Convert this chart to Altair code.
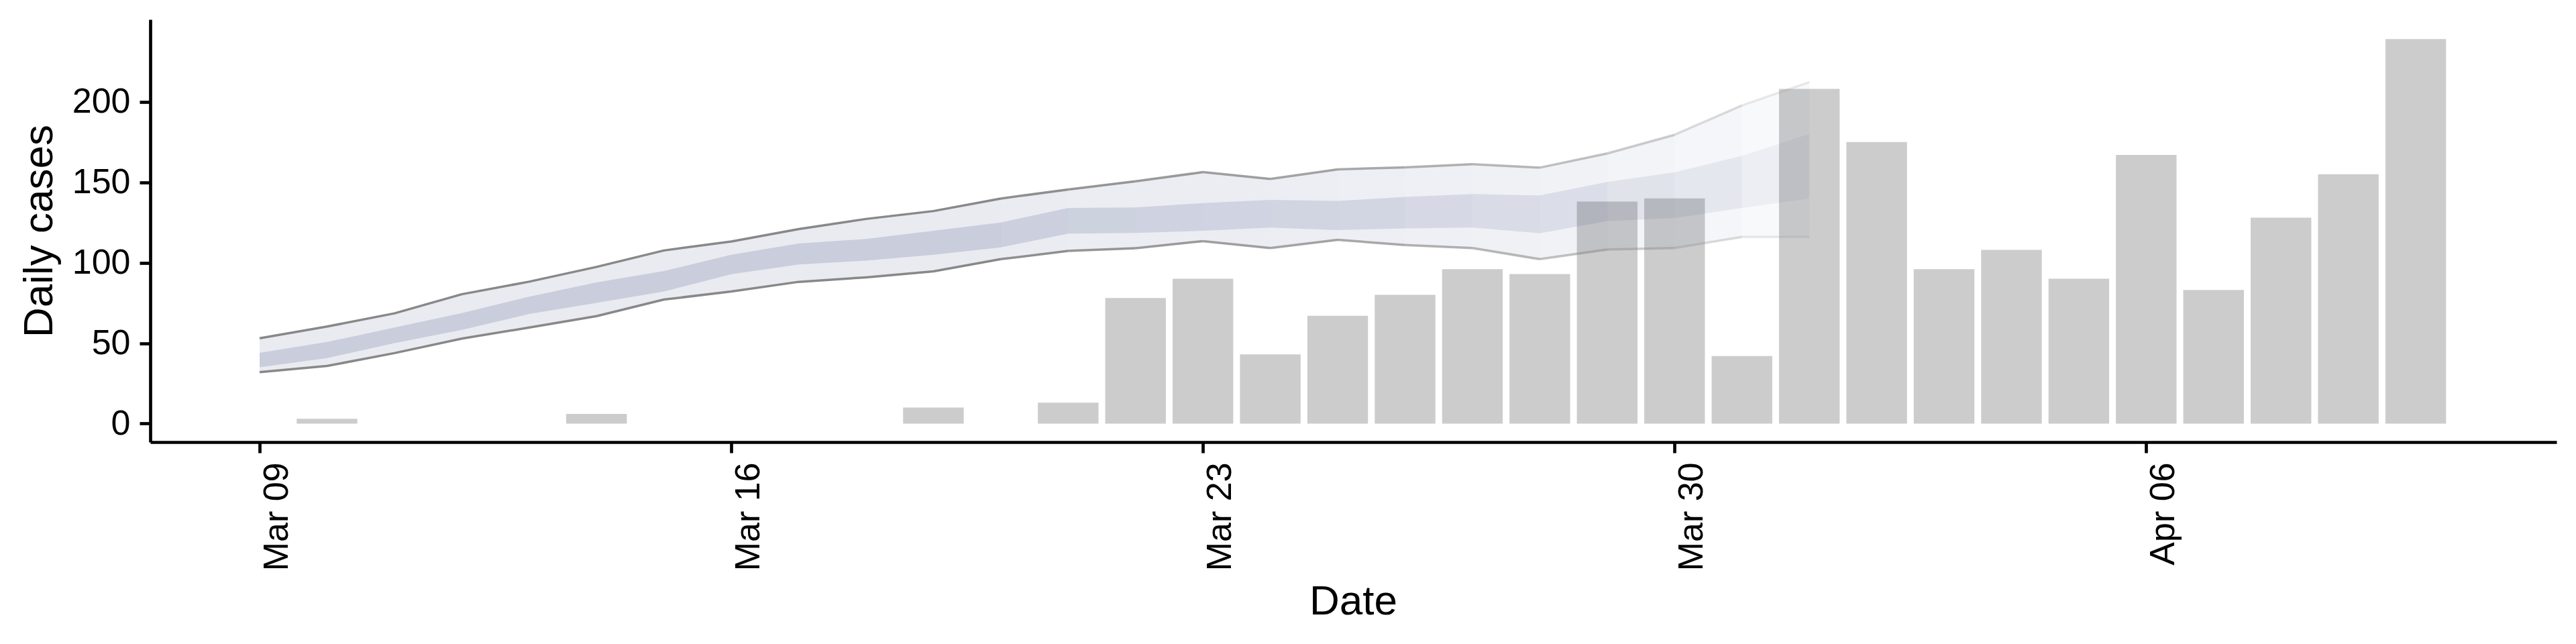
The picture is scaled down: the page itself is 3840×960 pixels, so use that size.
import altair as alt
import pandas as pd

# observed daily cases (bars)
case_dates = [
    "2020-03-10", "2020-03-14", "2020-03-19", "2020-03-21", "2020-03-22",
    "2020-03-23", "2020-03-24", "2020-03-25", "2020-03-26", "2020-03-27",
    "2020-03-28", "2020-03-29", "2020-03-30", "2020-03-31", "2020-04-01",
    "2020-04-02", "2020-04-03", "2020-04-04", "2020-04-05", "2020-04-06",
    "2020-04-07", "2020-04-08", "2020-04-09", "2020-04-10",
]
daily_cases = [3, 6, 10, 13, 78, 90, 43, 67, 80, 96, 93, 138, 140, 42, 208,
               175, 96, 108, 90, 167, 83, 128, 155, 239]

# estimated cases by date of infection (credible intervals)
est_dates = [
    "2020-03-09", "2020-03-10", "2020-03-11", "2020-03-12", "2020-03-13",
    "2020-03-14", "2020-03-15", "2020-03-16", "2020-03-17", "2020-03-18",
    "2020-03-19", "2020-03-20", "2020-03-21", "2020-03-22", "2020-03-23",
    "2020-03-24", "2020-03-25", "2020-03-26", "2020-03-27", "2020-03-28",
    "2020-03-29", "2020-03-30", "2020-03-31", "2020-04-01",
]
upper_90 = [53.0, 60.3, 68.5, 80.4, 88.2, 97.4, 107.6, 113.2, 120.9, 127.2,
            132.1, 139.9, 145.5, 150.6, 156.3, 152.1, 158.0, 159.3, 161.2,
            159.1, 167.9, 179.5, 197.8, 212.3]
lower_90 = [32.0, 35.8, 43.8, 52.8, 59.7, 66.8, 77.1, 82.1, 88.1, 90.9,
            94.6, 102.2, 107.3, 109.0, 113.4, 109.1, 114.2, 111.0, 109.1,
            102.2, 108.2, 109.1, 116.0, 116.0]
upper_50 = [44.0, 50.7, 59.7, 68.7, 78.9, 87.7, 94.8, 104.9, 111.9, 114.7,
            119.8, 125.0, 134.0, 134.3, 137.1, 139.0, 138.4, 140.9, 142.7,
            141.8, 150.2, 156.2, 166.4, 180.0]
lower_50 = [35.0, 40.7, 50.0, 58.2, 68.1, 75.0, 82.1, 92.9, 98.9, 101.3,
            104.9, 109.5, 118.1, 118.5, 119.8, 121.8, 120.3, 121.3, 121.8,
            118.3, 125.9, 127.8, 134.0, 139.9]
# confidence weight of each day-to-day step (recent days are faded)
step_weight = [1, 1, 1, 1, 1, 1, 1, 1, 1, 1, 1,
               0.96, 0.92, 0.89, 0.86, 0.83, 0.80, 0.75, 0.70, 0.64, 0.56,
               0.44, 0.32]

y_ticks = [0, 50, 100, 150, 200]


def iso(ts):
    return ts.strftime("%Y-%m-%dT%H:%M:%SZ")


bars = pd.DataFrame({"date": pd.to_datetime(case_dates), "cases": daily_cases})
bars["start"] = (bars["date"] - pd.Timedelta(hours=10.8)).map(iso)
bars["end"] = (bars["date"] + pd.Timedelta(hours=10.8)).map(iso)
bars = bars.drop(columns="date")

# split the ribbon into pieces so that each piece can have its own opacity
rows = []
seg = -1
prev_w = None
for i in range(len(est_dates) - 1):
    w = step_weight[i]
    if w != prev_w:
        seg += 1
        rows.append((seg, w, i))
    rows.append((seg, w, i + 1))
    prev_w = w
ribbon = pd.DataFrame([{
    "seg": s, "w": w,
    "date": est_dates[i] + "T00:00:00Z",
    "hi90": upper_90[i], "lo90": lower_90[i],
    "hi50": upper_50[i], "lo50": lower_50[i],
} for s, w, i in rows])

day0 = pd.Timestamp("2020-03-09")
x_scale = alt.Scale(
    type="utc",
    domain=[iso(day0 - pd.Timedelta(days=1.623)), iso(day0 + pd.Timedelta(days=34.09))],
)
x_axis = alt.Axis(
    title="Date",
    values=[alt.DateTime(year=2020, month=m, date=d, utc=True)
            for m, d in [(3, 9), (3, 16), (3, 23), (3, 30), (4, 6)]],
    format="%b %d", labelAngle=270, labelAlign="right", labelBaseline="top",
    labelFlush=False, labelOverlap=False,
    titleX=1793, titleY=256, titleAlign="center", titleBaseline="alphabetic",
)
y_scale = alt.Scale(domain=[-11.5, 251.2], nice=False, zero=False)
y_axis = alt.Axis(
    title="Daily cases", values=y_ticks,
    titleX=-147, titleY=315, titleAngle=270, titleAlign="center",
    titleBaseline="alphabetic",
)

col = alt.Chart(bars).mark_bar(color="#cccccc").encode(
    x=alt.X("start:T", scale=x_scale, axis=x_axis),
    x2="end:T",
    y=alt.Y("cases:Q", scale=y_scale, axis=y_axis),
    y2=alt.datum(0),
)

base = alt.Chart(ribbon)

outer = base.transform_calculate(op="0.112 * datum.w").mark_area(color="#3c4b82").encode(
    x=alt.X("date:T", scale=x_scale, axis=x_axis),
    y=alt.Y("lo90:Q", scale=y_scale, axis=y_axis),
    y2="hi90:Q",
    detail="seg:N",
    opacity=alt.Opacity("op:Q", scale=None, legend=None),
)

inner = base.transform_calculate(op="0.185 * datum.w").mark_area(color="#3c4b82").encode(
    x=alt.X("date:T", scale=x_scale, axis=x_axis),
    y=alt.Y("lo50:Q", scale=y_scale, axis=y_axis),
    y2="hi50:Q",
    detail="seg:N",
    opacity=alt.Opacity("op:Q", scale=None, legend=None),
)

edges = base.transform_fold(
    ["hi90", "lo90"], as_=["bound", "value"]
).transform_calculate(op="pow(datum.w, 1.5)").mark_line(
    color="#888888", strokeWidth=3.5, strokeCap="butt", strokeJoin="round"
).encode(
    x=alt.X("date:T", scale=x_scale, axis=x_axis),
    y=alt.Y("value:Q", scale=y_scale, axis=y_axis),
    detail=["seg:N", "bound:N"],
    opacity=alt.Opacity("op:Q", scale=None, legend=None),
)

chart = alt.layer(col, outer, inner, edges).properties(
    width=3587, height=630,
    autosize=alt.AutoSizeParams(type="none"),
    padding={"left": 216, "top": 21, "right": 21, "bottom": 293},
).configure_view(
    strokeOpacity=0,
).configure_axis(
    grid=False,
    labelFont="Liberation Sans", titleFont="Liberation Sans",
    labelFontSize=52, titleFontSize=62, titleFontWeight="normal",
    labelColor="black", titleColor="black",
    domainColor="black", domainWidth=4.7,
    tickColor="black", tickWidth=4.7, tickSize=16,
    labelPadding=14,
)

chart.save("out.html", embed_options={"renderer": "svg", "actions": False})
